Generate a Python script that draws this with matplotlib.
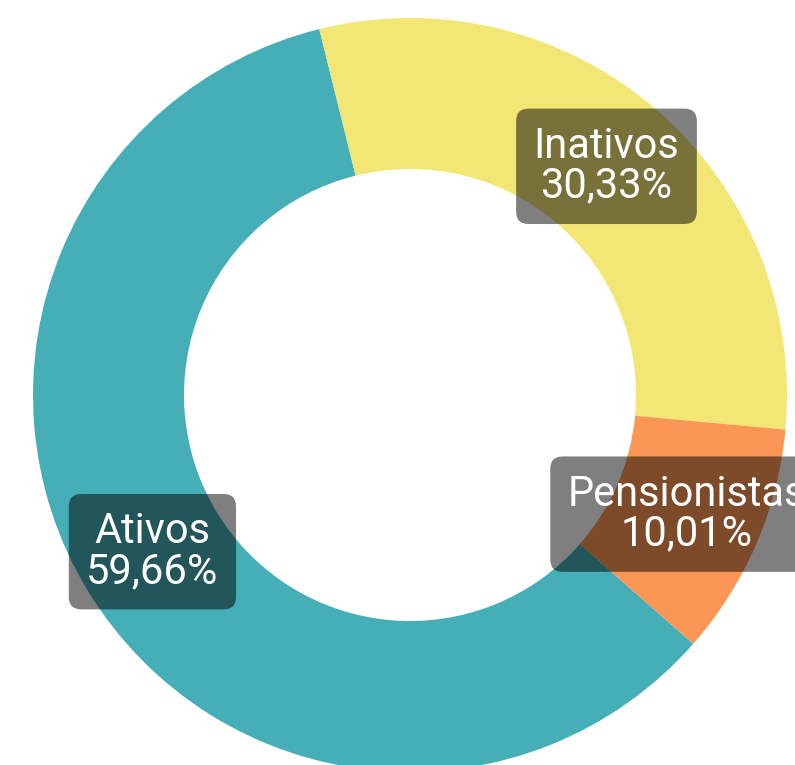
import matplotlib
matplotlib.use('Agg')
import matplotlib.pyplot as plt
import numpy as np

categorias = ['Ativos', 'Inativos', 'Pensionistas']
percentuais = [59.66, 30.33, 10.01]
cores = ['#46aeb7', '#f2e675', '#fc9655']

fig = plt.figure(figsize=(7.95, 7.65), dpi=100)
ax = fig.add_axes([0, 0, 1, 1])

centro = (410, 370)
raio = 377
largura = 151

wedges, _ = ax.pie(percentuais, colors=cores, startangle=-41.3, counterclock=False,
                   center=centro, radius=raio, frame=True,
                   wedgeprops=dict(width=largura, linewidth=0))
ax.set_xlim(0, 795)
ax.set_ylim(0, 765)
ax.set_aspect('equal')
ax.axis('off')

# rotulos no meio do anel
r_label = raio - largura / 2
for w, nome, v in zip(wedges, categorias, percentuais):
    ang = np.deg2rad((w.theta1 + w.theta2) / 2)
    x = centro[0] + r_label * np.cos(ang)
    y = centro[1] + r_label * np.sin(ang)
    txt = nome + '\n' + ('%.2f' % v).replace('.', ',') + '%'
    ax.text(x, y, txt, ha='center', va='center', color='white', fontsize=30,
            family='Roboto', linespacing=0.95,
            bbox=dict(boxstyle='round,pad=0.42,rounding_size=0.3', fc=(0, 0, 0, 0.5), ec='none'))

fig.savefig('out.png', dpi=100)
